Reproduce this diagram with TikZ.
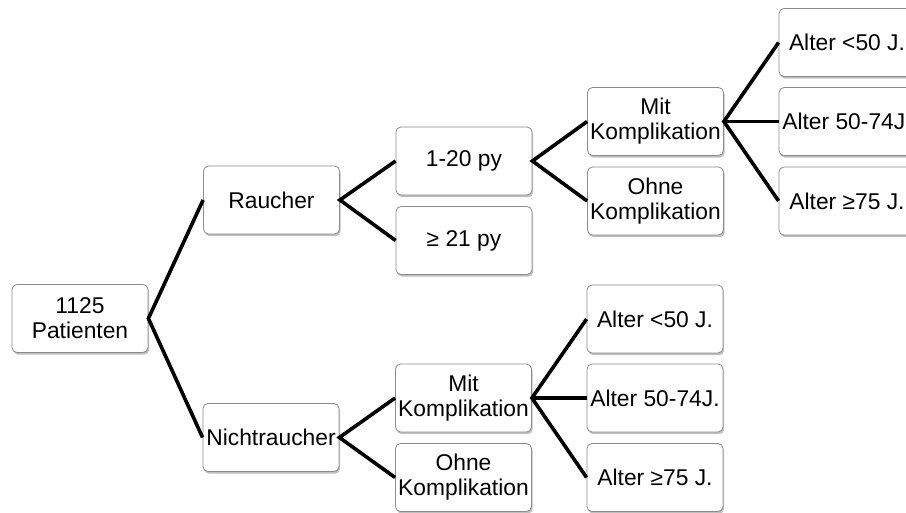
\documentclass[tikz,border=0pt]{standalone}
\usepackage{fontspec}
\setmainfont{Liberation Sans}
\usetikzlibrary{shadows}
\begin{document}
\begin{tikzpicture}[x=1pt,y=-1pt,
  box/.style={draw=black!45, line width=0.8pt, fill=white, rounded corners=5pt,
    minimum width=136pt, minimum height=68pt, inner sep=0.5pt, align=center,
    font=\fontsize{22.8}{25}\selectfont,
    drop shadow={shadow xshift=1.2pt, shadow yshift=-2.2pt, opacity=0.25, fill=black}},
  conn/.style={line width=3.6pt, black}]
\useasboundingbox (0,0) rectangle (906,513);
\clip (0,0) rectangle (906,513);
\node[box] (root) at (80,318.5) {1125\\Patienten};
\node[box] (raucher) at (271.5,200) {Raucher};
\node[box] (nicht) at (271,437.5) {Nichtraucher};
\node[box] (p120) at (464,161) {1-20 py};
\node[box] (p21) at (464,240.5) {≥ 21 py};
\node[box] (umit) at (655.5,121.5) {Mit\\Komplikation};
\node[box] (uohne) at (655.5,201) {Ohne\\Komplikation};
\node[box] (ua1) at (847,42.5) {Alter <50 J.};
\node[box] (ua2) at (847,121.5) {Alter 50-74J.};
\node[box] (ua3) at (847,201) {Alter ≥75 J.};
\node[box] (lmit) at (463.5,398) {Mit\\Komplikation};
\node[box] (lohne) at (463.5,477.5) {Ohne\\Komplikation};
\node[box] (la1) at (655,319) {Alter <50 J.};
\node[box] (la2) at (655,398) {Alter 50-74J.};
\node[box] (la3) at (655,477.5) {Alter ≥75 J.};
\draw[conn] (raucher.west) -- (root.east) -- (nicht.west);
\draw[conn] (p120.west) -- (raucher.east) -- (p21.west);
\draw[conn] (umit.west) -- (p120.east) -- (uohne.west);
\draw[conn] (ua1.west) -- (umit.east) -- (ua3.west);
\draw[conn] (umit.east) -- (ua2.west);
\draw[conn] (lmit.west) -- (nicht.east) -- (lohne.west);
\draw[conn] (la1.west) -- (lmit.east) -- (la3.west);
\draw[conn] (lmit.east) -- (la2.west);
\end{tikzpicture}
\end{document}
